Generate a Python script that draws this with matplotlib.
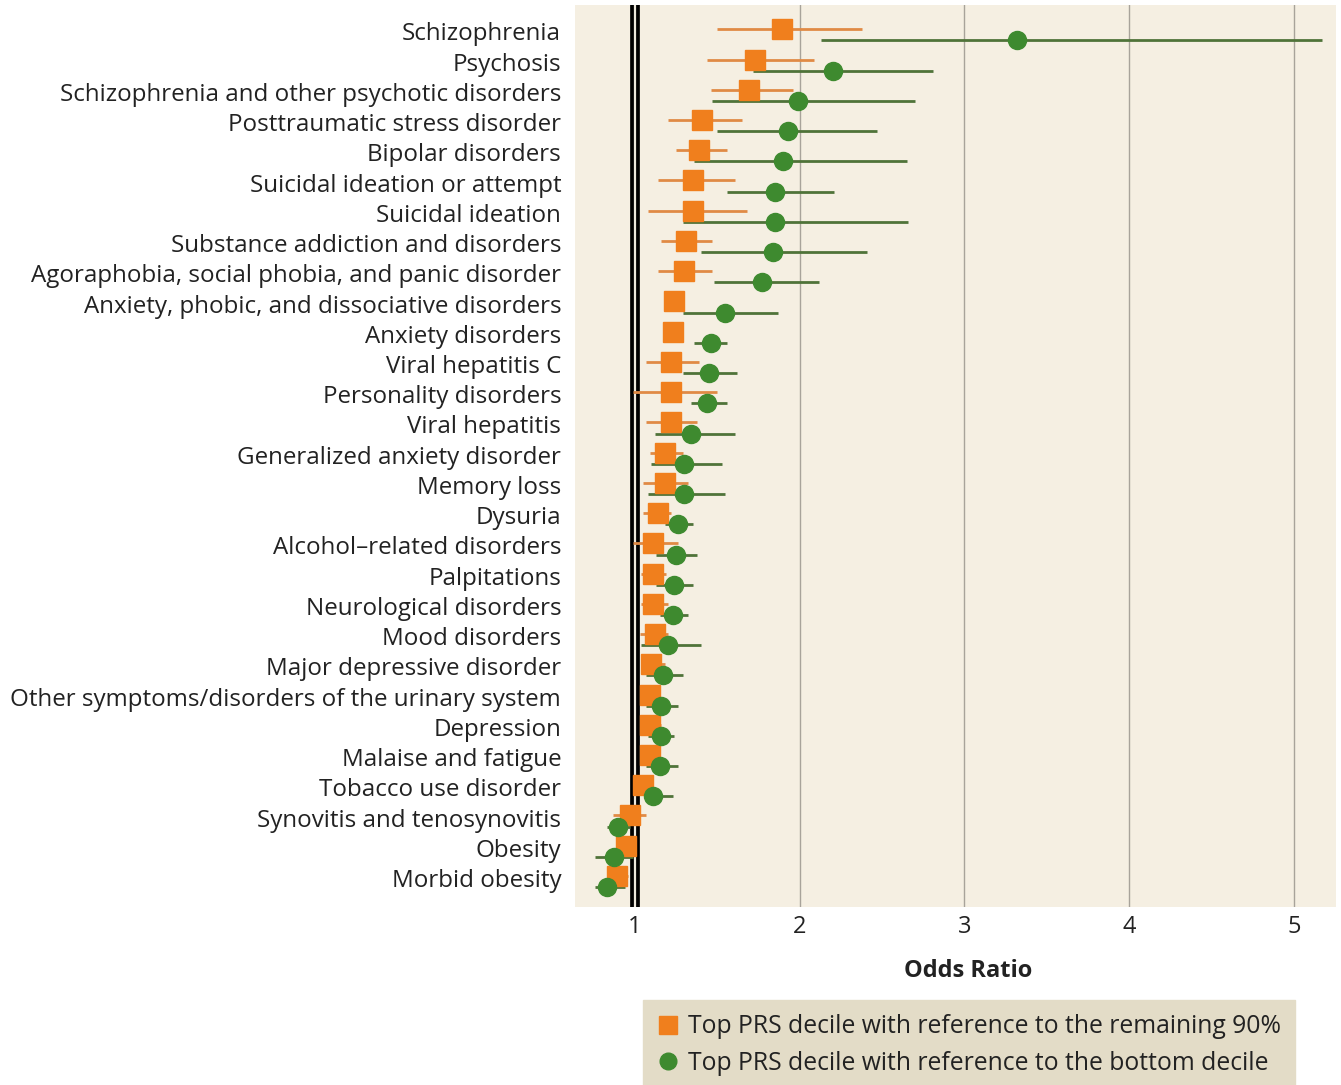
import matplotlib
matplotlib.use("Agg")
import matplotlib.pyplot as plt
from matplotlib.lines import Line2D

plt.rcParams['font.family'] = ['Open Sans', 'DejaVu Sans']

categories = [
    "Schizophrenia", "Psychosis", "Schizophrenia and other psychotic disorders",
    "Posttraumatic stress disorder", "Bipolar disorders", "Suicidal ideation or attempt",
    "Suicidal ideation", "Substance addiction and disorders",
    "Agoraphobia, social phobia, and panic disorder",
    "Anxiety, phobic, and dissociative disorders", "Anxiety disorders", "Viral hepatitis C",
    "Personality disorders", "Viral hepatitis", "Generalized anxiety disorder", "Memory loss",
    "Dysuria", "Alcohol\u2013related disorders", "Palpitations", "Neurological disorders",
    "Mood disorders", "Major depressive disorder",
    "Other symptoms/disorders of the urinary system", "Depression", "Malaise and fatigue",
    "Tobacco use disorder", "Synovitis and tenosynovitis", "Obesity", "Morbid obesity",
]

# Top decile vs remaining 90%
or_rest = [1.89, 1.73, 1.69, 1.41, 1.39, 1.35, 1.35, 1.31, 1.30, 1.24, 1.23, 1.22, 1.22, 1.22,
           1.18, 1.18, 1.14, 1.11, 1.11, 1.11, 1.12, 1.10, 1.09, 1.09, 1.09, 1.05, 0.97, 0.945, 0.89]
lo_rest = [1.50, 1.44, 1.46, 1.20, 1.25, 1.14, 1.08, 1.16, 1.14, 1.19, 1.17, 1.07, 0.99, 1.07,
           1.09, 1.05, 1.05, 0.99, 1.04, 1.04, 1.03, 1.05, 1.04, 1.04, 1.04, 1.00, 0.87, 0.90, 0.83]
hi_rest = [2.38, 2.09, 1.96, 1.65, 1.56, 1.61, 1.68, 1.47, 1.47, 1.30, 1.29, 1.39, 1.50, 1.38,
           1.29, 1.32, 1.22, 1.26, 1.19, 1.20, 1.20, 1.18, 1.15, 1.16, 1.15, 1.10, 1.07, 1.00, 0.96]

# Top decile vs bottom decile
or_bot = [3.32, 2.20, 1.99, 1.93, 1.90, 1.85, 1.85, 1.84, 1.77, 1.55, 1.46, 1.45, 1.44, 1.34,
          1.30, 1.30, 1.26, 1.25, 1.24, 1.23, 1.20, 1.17, 1.16, 1.16, 1.15, 1.11, 0.90, 0.875, 0.83]
lo_bot = [2.13, 1.72, 1.47, 1.50, 1.36, 1.56, 1.29, 1.40, 1.48, 1.29, 1.36, 1.29, 1.34, 1.12,
          1.10, 1.08, 1.18, 1.13, 1.13, 1.15, 1.04, 1.07, 1.07, 1.08, 1.07, 1.06, 0.83, 0.76, 0.76]
hi_bot = [5.17, 2.81, 2.70, 2.47, 2.65, 2.21, 2.66, 2.41, 2.12, 1.87, 1.56, 1.62, 1.56, 1.61,
          1.53, 1.55, 1.35, 1.38, 1.35, 1.32, 1.40, 1.29, 1.26, 1.24, 1.26, 1.23, 0.97, 0.99, 0.94]

xticks = [1, 2, 3, 4, 5]
legend_labels = ["Top PRS decile with reference to the remaining 90%",
                 "Top PRS decile with reference to the bottom decile"]

ORANGE = "#F07F1D"
ORANGE_LINE = "#E08A45"
GREEN = "#3E8A2F"
GREEN_LINE = "#4F7339"
BG = "#F5EFE2"

fig = plt.figure(figsize=(13.41, 10.85), dpi=100)
ax = fig.add_axes([0.4288, 0.164, 0.5675, 0.831])
ax.set_facecolor(BG)

n = len(categories)
rows = list(range(n))
y_sq = [r - 0.07 for r in rows]
y_ci = [r + 0.3 for r in rows]

for x in xticks[1:]:
    ax.axvline(x, color="#A8A39A", lw=1.0, zorder=1)
ax.axvline(1, color="black", lw=7, zorder=2)
ax.axvline(1, color="#EDE8DC", lw=1.6, zorder=2.1)

ax.errorbar(or_rest, y_sq,
            xerr=[[o - l for o, l in zip(or_rest, lo_rest)], [h - o for o, h in zip(or_rest, hi_rest)]],
            fmt='none', ecolor=ORANGE_LINE, elinewidth=2.0, capsize=0, zorder=3)
ax.errorbar(or_bot, y_ci,
            xerr=[[o - l for o, l in zip(or_bot, lo_bot)], [h - o for o, h in zip(or_bot, hi_bot)]],
            fmt='none', ecolor=GREEN_LINE, elinewidth=2.0, capsize=0, zorder=3)
ax.plot(or_rest, y_sq, 's', color=ORANGE, ms=15, mec=ORANGE, zorder=4)
ax.plot(or_bot, y_ci, 'o', color=GREEN, ms=13, mec=GREEN, zorder=5)

ax.set_xlim(0.637, 5.255)
ax.set_ylim(n - 1 + 0.96, -0.86)
ax.set_yticks(rows)
ax.set_yticklabels(categories, fontsize=17.4, color="#222222")
ax.set_xticks(xticks)
ax.set_xticklabels([str(t) for t in xticks], fontsize=17, color="#222222")
ax.tick_params(axis='both', length=0)
ax.tick_params(axis='y', pad=10)
ax.tick_params(axis='x', pad=6)
for s in ax.spines.values():
    s.set_visible(False)
ax.set_xlabel("Odds Ratio", fontsize=17, fontweight='bold', color="#222222", labelpad=14)
ax.xaxis.label.set_x(0.516)

handles = [Line2D([], [], marker='s', ls='none', color=ORANGE, ms=13),
           Line2D([], [], marker='o', ls='none', color=GREEN, ms=12)]
leg = fig.legend(handles, legend_labels, loc='lower left', bbox_to_anchor=(0.4795, -0.005),
                 fontsize=17.8, frameon=True, fancybox=False, handlelength=0.8, handletextpad=0.4,
                 borderpad=0.6, labelspacing=0.45, borderaxespad=0)
leg.get_frame().set_facecolor("#E3DCC7")
leg.get_frame().set_edgecolor("#E3DCC7")
leg.get_frame().set_alpha(1)
for t in leg.get_texts():
    t.set_color("#222222")

fig.savefig("out.png", dpi=100, facecolor="white")
